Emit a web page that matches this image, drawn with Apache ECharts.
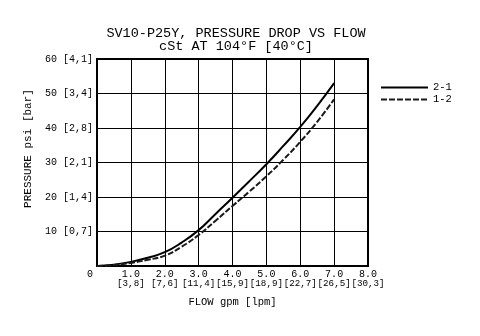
<!DOCTYPE html>
<html>
<head>
<meta charset="utf-8">
<script src="https://cdn.jsdelivr.net/npm/echarts@6/dist/echarts.min.js"></script>
<style>
  html, body { margin: 0; padding: 0; background: #fff; }
  #chart { width: 480px; height: 336px; }
</style>
</head>
<body>
<div id="chart"></div>
<script>
// Flow in gpm and pressure drop in psi for each flow direction
const flowGpm = [0, 0.5, 1, 1.5, 2, 2.5, 3, 3.5, 4, 4.5, 5, 5.5, 6, 6.5, 7];
const drop21 = [0, 0.4, 1.2, 2.4, 4.0, 6.8, 10.4, 15.1, 19.8, 24.6, 29.5, 34.8, 40.3, 46.4, 53];
const drop12 = [0, 0.3, 0.9, 1.8, 3.0, 5.6, 9.0, 13.1, 17.4, 21.6, 26.0, 30.8, 36.0, 41.8, 48.3];

// Secondary unit labels (bar for pressure ticks, lpm for flow ticks)
const barTicks = { 10: '0,7', 20: '1,4', 30: '2,1', 40: '2,8', 50: '3,4', 60: '4,1' };
const lpmTicks = ['3,8', '7,6', '11,4', '15,9', '18,9', '22,7', '26,5', '30,3'];

const FONT = "'Liberation Mono', 'DejaVu Sans Mono', monospace";

const pair = (x, y) => x.map((v, i) => [v, y[i]]);

const chart = echarts.init(document.getElementById('chart'), null, { renderer: 'canvas' });
chart.setOption({
  backgroundColor: '#fff',
  animation: false,
  title: {
    text: 'SV10-P25Y, PRESSURE DROP VS FLOW\ncSt AT 104°F [40°C]',
    left: 231,
    textAlign: 'center',
    top: 22,
    textStyle: { fontFamily: FONT, fontSize: 13.5, fontWeight: 'normal', color: '#000', lineHeight: 13 }
  },
  legend: {
    left: 375,
    top: 77,
    orient: 'vertical',
    itemWidth: 47,
    itemHeight: 10,
    itemGap: 1,
    itemStyle: { opacity: 0 },
    textStyle: { fontFamily: FONT, fontSize: 10.5, color: '#000' },
    data: ['2-1', '1-2']
  },
  grid: {
    left: 97, right: 112, top: 59, bottom: 70,
    show: true, borderColor: '#000', borderWidth: 2
  },
  xAxis: {
    type: 'value', min: 0, max: 8, interval: 1,
    name: 'FLOW gpm [lpm]',
    nameLocation: 'middle',
    nameGap: 31,
    nameTextStyle: { fontFamily: FONT, fontSize: 10.5, color: '#000' },
    axisLine: { lineStyle: { color: '#000', width: 2 } },
    axisTick: { show: false },
    splitLine: { lineStyle: { color: '#000', width: 1 } },
    axisLabel: {
      color: '#000', margin: 3,
      showMinLabel: true, showMaxLabel: true,
      formatter: v => v === 0 ? '{z|0}' : '{a|' + v.toFixed(1) + '}\n{b|[' + lpmTicks[v - 1] + ']}',
      rich: {
        z: { fontFamily: FONT, fontSize: 10, color: '#000', padding: [0, 14, 8, 0] },
        a: { fontFamily: FONT, fontSize: 10, color: '#000', lineHeight: 10 },
        b: { fontFamily: FONT, fontSize: 9.2, color: '#000', lineHeight: 10 }
      }
    }
  },
  yAxis: {
    type: 'value', min: 0, max: 60, interval: 10,
    name: 'PRESSURE psi [bar]',
    nameLocation: 'middle',
    nameGap: 54,
    nameTextStyle: { fontFamily: FONT, fontSize: 11, color: '#000', padding: [0, 0, 0, 28] },
    axisLine: { show: true, lineStyle: { color: '#000', width: 2 } },
    axisTick: { show: false },
    splitLine: { lineStyle: { color: '#000', width: 1 } },
    axisLabel: {
      fontFamily: FONT, fontSize: 10, color: '#000', margin: 4,
      formatter: v => v === 0 ? '' : v + ' [' + barTicks[v] + ']'
    }
  },
  series: [
    {
      name: '2-1', type: 'line', data: pair(flowGpm, drop21),
      smooth: true, showSymbol: false, symbol: 'none',
      lineStyle: { color: '#000', width: 2 },
      itemStyle: { color: '#000' }
    },
    {
      name: '1-2', type: 'line', data: pair(flowGpm, drop12),
      smooth: true, showSymbol: false, symbol: 'none',
      lineStyle: { color: '#1a1a1a', width: 2, type: [6, 2] },
      itemStyle: { color: '#1a1a1a' }
    }
  ]
});
</script>
</body>
</html>
